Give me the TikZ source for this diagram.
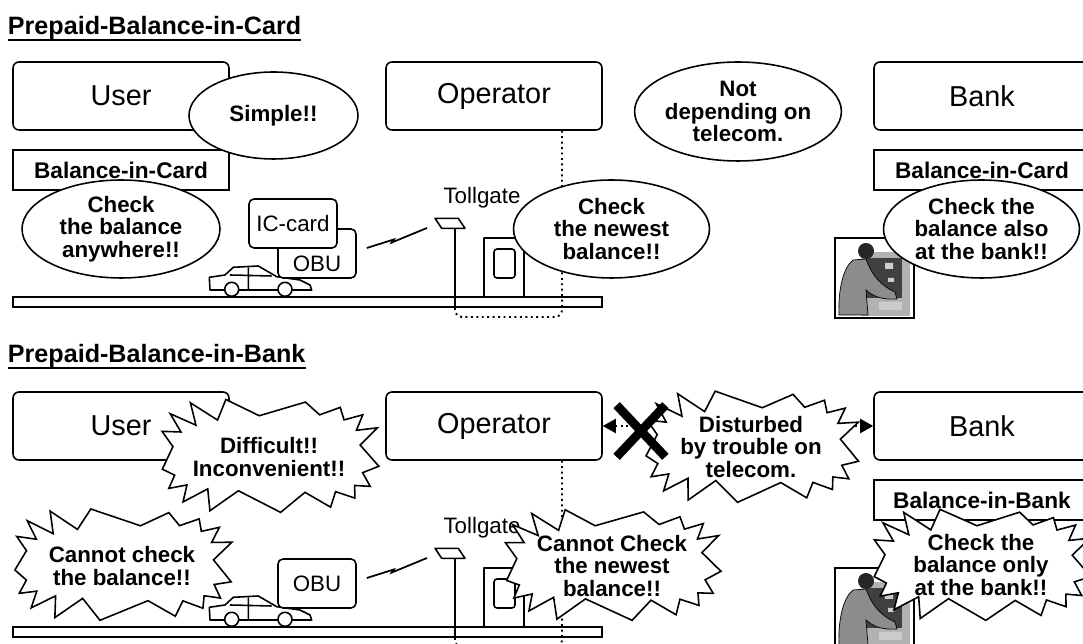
\documentclass[tikz,border=0pt]{standalone}
\usepackage{fontspec}
\setmainfont{Liberation Sans}
\usetikzlibrary{arrows.meta,positioning,calc,shapes.geometric,shapes.misc}
\tikzset{
  party/.style={draw,line width=.9pt,rounded corners=.12cm,minimum width=4.32cm,
                minimum height=1.36cm,font=\fontsize{16.4}{19}\selectfont},
  acct/.style={draw,line width=.9pt,fill=white,minimum width=4.32cm,minimum height=.8cm,
               inner sep=0pt,font=\fontsize{12.9}{14}\selectfont\bfseries},
  bubble/.style={ellipse,draw,fill=white,line width=.9pt,inner sep=0pt,align=center,
                 font=\fontsize{12.7}{12.7}\selectfont\bfseries},
  shout/.style={inner sep=0pt,align=center,font=\fontsize{12.7}{12.7}\selectfont\bfseries},
  spike/.style={draw=black,fill=white,line width=.9pt,line join=miter,miter limit=20},
  device/.style={draw,fill=white,line width=.9pt,rounded corners=.1cm,inner sep=0pt,
                 minimum height=.98cm,font=\fontsize{12.7}{14}\selectfont},
  hdr/.style={anchor=base west,inner sep=0pt,font=\fontsize{14.3}{16}\selectfont\bfseries},
  lbl/.style={inner sep=0pt,font=\fontsize{12.7}{14}\selectfont},
  thin/.style={line width=.9pt,line join=round},
  wire/.style={dotted,line width=1.1pt,rounded corners=.14cm},
  tele/.style={dotted,line width=1.1pt,
               {Triangle[length=2.6mm,width=2.8mm]}-{Triangle[length=2.6mm,width=2.8mm]}},
  radio/.style={line width=1pt,line join=miter},
  cut/.style={cross out,draw,line width=5pt,minimum width=.8cm,minimum height=.86cm},
  sedan/.pic={
    \draw[thin,fill=white] (1,25) -- (0.3,12.3) -- (16,10) -- (24.3,2.3) -- (49.3,1)
      -- (67.7,11.7) -- (91,15) -- (101,20) -- (102.7,25) -- cycle;
    \draw[thin] (21,10) -- (62.7,11) (39.3,2.3) -- (39.3,25);
    \draw[thin,fill=white] (22.7,24.3) circle[radius=7] (76,24.3) circle[radius=7];
  },
  atm/.pic={
    \draw[line width=.6pt] (0,0) rectangle (79,80);
    \fill[black!30] (26,14) rectangle (75,78);
    \fill[black!75] (31,20) rectangle (67,60);
    \fill[black!20] (50,25) rectangle (58,31) (53,40) rectangle (59,44) (44,64) rectangle (67,72);
    \filldraw[fill=black!45,draw=black,line width=.4pt] (4,77) .. controls (3,52) and (8,30) .. (18,22)
      -- (31,21) .. controls (35,32) and (42,46) .. (60,54) -- (62,61)
      .. controls (46,62) and (38,58) .. (31,52) -- (33,77) -- cycle;
    \fill[black!85] (31,13) circle[radius=8];
  },
}
% jagged balloon round a squarish oval: centre, half width, half height, turn
\newcommand\spikes[4]{%
  \filldraw[spike,shift={(#1)}] plot[samples at={0,...,33},variable=\k]
    ({(#2-mod(\k,2)*16+3*sin(\k*151))*((cos(#4+\k*360/34)<0)?-1:1)*(abs(cos(#4+\k*360/34))+0.0001)^0.6},
     {(#3-mod(\k,2)*16+3*sin(\k*151))*((sin(#4+\k*360/34)<0)?-1:1)*(abs(sin(#4+\k*360/34))+0.0001)^0.6})
    -- cycle;}
\begin{document}
\begin{tikzpicture}[x=0.02cm,y=-0.02cm]
  \useasboundingbox (0,0) rectangle (1083,644);
  \fill[white] (0,0) rectangle (1083,644);
  \clip (0,0) rectangle (1083,644);

  % the road scene is the same in both halves
  \foreach \dy/\n in {0/1,330/2}{
    \begin{scope}[shift={(0,\dy)}]
      \node[party] (user\n) at (121,96) {User};
      \node[party] (op\n) at (494,96) {Operator};
      \node[party] (bank\n) at (982,96) {Bank};
      \draw[line width=.8pt] (13,297) rectangle (602,307);
      \coordinate (foot\n) at (455,307);
      \coordinate (ant\n) at (427,228);
      \coordinate (drop\n) at ($(op\n.south)+(68,0)$);
      \draw[wire] (drop\n) |- (455,317) -- (foot\n);
      % tollgate
      \draw[thin] (484,297) |- (524,238) -- (524,297);
      \draw[thin,rounded corners=.06cm] (494,249) rectangle (515,278);
      \draw[thin] (435,218.3) -- (458.3,218.3) -- (465,228.3) -- (441.7,228.3) -- cycle;
      \draw[line width=1.1pt] (455,228.3) -- (foot\n);
      \node[lbl,anchor=base] (tg\n) at (482,204) {Tollgate};
      \pic at (209,265) {sedan};
      \pic at (835,238) {atm};
    \end{scope}
  }

  % Prepaid-Balance-in-Card
  \node[hdr] (hd1) at (7.6,34.7) {Prepaid-Balance-in-Card};
  \draw[line width=1.1pt] (hd1.south west) -- (hd1.south east);
  \node[device,minimum width=1.56cm,text height=20.5pt] (obu1) at (317,253.5) {OBU};
  \node[device,minimum width=1.76cm] (ic1) at (293,223.5) {IC-card};
  \draw[radio] ($(obu1.east)+(10,-5.5)$) -- +(27,-8.5) -- +(25,-5.5) -- (ant1);
  \node[acct] (bc1) at (121,170) {Balance-in-Card};
  \node[acct] (bc2) at (982,170) {Balance-in-Card};
  \node[bubble,minimum width=3.38cm,minimum height=1.74cm] (simple) at (273.5,115.5) {Simple!!};
  \node[bubble,minimum width=3.96cm,minimum height=1.96cm] (anyw) at (121,229)
    {Check\\the balance\\anywhere!!};
  \node[bubble,minimum width=3.92cm,minimum height=1.96cm] (newest) at (611.5,229)
    {Check\\the newest\\balance!!};
  \node[bubble,minimum width=3.92cm,minimum height=1.98cm] (nodep) at (738,111.5)
    {Not\\depending on\\telecom.};
  \node[bubble,minimum width=3.92cm,minimum height=1.96cm] (also) at (981.5,229)
    {Check the\\balance also\\at the bank!!};

  % Prepaid-Balance-in-Bank
  \node[hdr] (hd2) at (7.6,362.7) {Prepaid-Balance-in-Bank};
  \draw[line width=1.1pt] (hd2.south west) -- (hd2.south east);
  \node[device,minimum width=1.56cm] (obu2) at (317,583.5) {OBU};
  \draw[radio] ($(obu2.east)+(10,-5.5)$) -- +(27,-8.5) -- +(25,-5.5) -- (ant2);
  \node[acct] (bb2) at (982,500) {Balance-in-Bank};
  \draw[tele] (op2.east) -- (bank2.west);
  \spikes{269,455}{110}{55}{4}
  \node[shout] (hard) at (269,457) {Difficult!!\\Inconvenient!!};
  \spikes{122,564}{110}{54}{9}
  \node[shout] (nocheck) at (122,566) {Cannot check\\the balance!!};
  \spikes{612,564}{109}{54}{2}
  \node[shout] (stale) at (612,566) {Cannot Check\\the newest\\balance!!};
  \spikes{751,446}{108}{54}{7}
  \node[shout] (trouble) at (751,447) {Disturbed\\by trouble on\\telecom.};
  \spikes{981,564}{110}{54}{5}
  \node[shout] (only) at (981,565) {Check the\\balance only\\at the bank!!};
  \node[cut] (x) at (641,431) {};
\end{tikzpicture}
\end{document}
